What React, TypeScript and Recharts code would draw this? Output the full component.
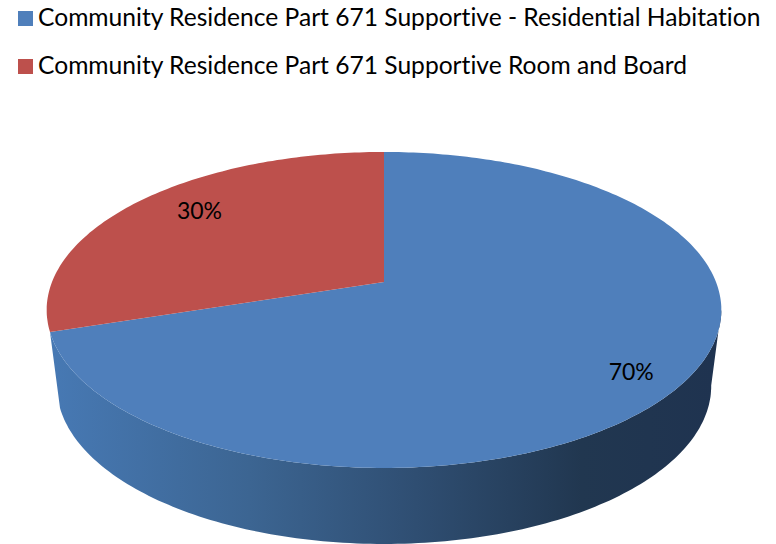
import React from 'react'
import { Cell, Legend, Pie, PieChart } from 'recharts'

const categories = [
  'Community Residence Part 671 Supportive - Residential Habitation',
  'Community Residence Part 671 Supportive Room and Board',
]
const shares = [70, 30]
const sliceColors = ['#4f7fbb', '#bd504c']

const chartData = categories.map((name, i) => ({ name, value: shares[i] }))

const FONT = 'Lato, sans-serif'

// the picture is a tilted disc, so the sector angles go through a small perspective projection
const SQUASH = 0.461
const PERSPECTIVE = -0.177
const WALL_DEPTH = 76
const WALL_SCALE = 0.97
const LEFT_HORIZON = -170
const RIGHT_HORIZON = -10

const project = (cx: number, cy: number, r: number, deg: number, f = 1, bottom = false) => {
  const t = (deg * Math.PI) / 180
  const X = f * Math.cos(t)
  const Y = -f * Math.sin(t)
  const den = 1 + PERSPECTIVE * Y
  const scale = bottom ? WALL_SCALE : 1
  return {
    x: cx + (scale * r * X) / den,
    y: cy + (r * SQUASH * Y) / den + (bottom ? WALL_DEPTH : 0),
  }
}

const arcPoints = (cx: number, cy: number, r: number, from: number, to: number, bottom = false) => {
  const n = Math.max(2, Math.ceil(Math.abs(to - from)))
  const pts: string[] = []
  for (let i = 0; i <= n; i++) {
    const p = project(cx, cy, r, from + ((to - from) * i) / n, 1, bottom)
    pts.push(`${p.x.toFixed(1)} ${p.y.toFixed(1)}`)
  }
  return pts
}

const TopSlice = (props: any) => {
  const { cx, cy, outerRadius, startAngle, endAngle, fill } = props
  const pts = arcPoints(cx, cy, outerRadius, startAngle, endAngle)
  return <path d={`M ${cx} ${cy} L ${pts.join(' L ')} Z`} fill={fill} stroke="none" />
}

// only the big slice shows a side wall in the picture
const WallSlice = (props: any) => {
  const { cx, cy, outerRadius, startAngle, endAngle, index } = props
  if (index !== 0) return null
  const lo = Math.max(Math.min(startAngle, endAngle), LEFT_HORIZON)
  const hi = Math.min(Math.max(startAngle, endAngle), RIGHT_HORIZON)
  const top = arcPoints(cx, cy, outerRadius, lo, hi)
  const low = arcPoints(cx, cy, outerRadius, hi, lo, true)
  return (
    <g>
      <defs>
        <linearGradient id="wall" gradientUnits="userSpaceOnUse" x1={50} y1={0} x2={715} y2={0}>
          <stop offset="0%" stopColor="#4779b4" />
          <stop offset="30%" stopColor="#3c6592" />
          <stop offset="55%" stopColor="#2f4e72" />
          <stop offset="80%" stopColor="#213750" />
          <stop offset="100%" stopColor="#1f3350" />
        </linearGradient>
      </defs>
      <path d={`M ${top.join(' L ')} L ${low.join(' L ')} Z`} fill="url(#wall)" stroke="none" />
    </g>
  )
}

const LABEL_RADIUS = [0.84, 0.74]
const LABEL_SHIFT = [6, -10]

const renderLabel = (props: any) => {
  const { cx, cy, outerRadius, midAngle, index, value } = props
  const p = project(cx, cy, outerRadius, midAngle, LABEL_RADIUS[index])
  return (
    <text
      x={p.x}
      y={p.y + LABEL_SHIFT[index]}
      textAnchor="middle"
      dominantBaseline="central"
      fill="#000"
      fontFamily={FONT}
      fontSize={23}
    >
      {`${value}%`}
    </text>
  )
}

// both pies feed the legend, so keep one row per category
const renderLegend = (props: any) => {
  const rows = props.payload.filter(
    (entry: any, i: number) => props.payload.findIndex((e: any) => e.value === entry.value) === i
  )
  return (
    <div>
      {rows.map((entry: any, i: number) => (
        <div key={entry.value} style={{ display: 'flex', alignItems: 'center', height: 48 }}>
          <span style={{ width: 15, height: 15, marginRight: 5, background: sliceColors[i], flex: 'none' }} />
          <span
            style={{
              position: 'relative',
              top: -2,
              fontFamily: FONT,
              fontSize: 24.6,
              fontVariantLigatures: 'none',
              color: '#000',
              whiteSpace: 'nowrap',
            }}
          >
            {entry.value}
          </span>
        </div>
      ))}
    </div>
  )
}

export default function App() {
  return (
    <div style={{ position: 'absolute', left: 0, top: 0, width: 776, height: 544, overflow: 'hidden', background: '#fff' }}>
      <PieChart width={776} height={544} margin={{ top: 0, right: 0, bottom: 0, left: 0 }}>
        <Pie
          data={chartData}
          dataKey="value"
          nameKey="name"
          cx={384}
          cy={282}
          outerRadius={332}
          startAngle={90}
          endAngle={-270}
          stroke="none"
          legendType="none"
          shape={WallSlice}
          isAnimationActive={false}
        />
        <Pie
          data={chartData}
          dataKey="value"
          nameKey="name"
          cx={384}
          cy={282}
          outerRadius={332}
          startAngle={90}
          endAngle={-270}
          stroke="none"
          shape={TopSlice}
          label={renderLabel}
          labelLine={false}
          isAnimationActive={false}
        >
          {chartData.map((d, i) => (
            <Cell key={d.name} fill={sliceColors[i]} />
          ))}
        </Pie>
        <Legend
          layout="horizontal"
          align="center"
          verticalAlign="middle"
          content={renderLegend}
          wrapperStyle={{ left: 18, top: -6, width: 758 }}
        />
      </PieChart>
    </div>
  )
}
